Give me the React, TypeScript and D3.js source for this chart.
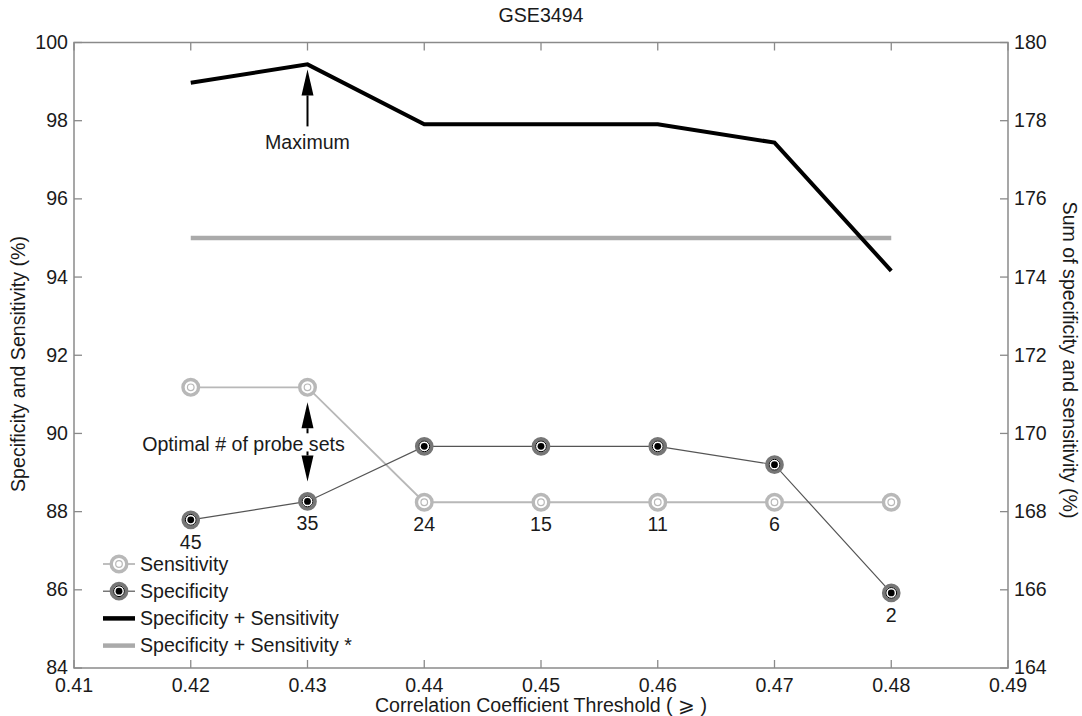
import React from "react";
import * as d3 from "d3";

// values
const thresholds = [0.42, 0.43, 0.44, 0.45, 0.46, 0.47, 0.48];
const sensitivity = [91.18, 91.18, 88.24, 88.24, 88.24, 88.24, 88.24];
const specificity = [87.79, 88.26, 89.67, 89.67, 89.67, 89.2, 85.92];
const sumSpecSens = [178.97, 179.44, 177.91, 177.91, 177.91, 177.44, 174.16];
const sumSpecSensStar = [175, 175, 175, 175, 175, 175, 175];
const probeSets = [45, 35, 24, 15, 11, 6, 2];

const xTicks = [0.41, 0.42, 0.43, 0.44, 0.45, 0.46, 0.47, 0.48, 0.49];
const yLeftTicks = [84, 86, 88, 90, 92, 94, 96, 98, 100];
const yRightTicks = [164, 166, 168, 170, 172, 174, 176, 178, 180];

const legendItems = [
  "Sensitivity",
  "Specificity",
  "Specificity + Sensitivity",
  "Specificity + Sensitivity *",
];

const W = 1082;
const H = 716;
const margin = { top: 42.5, right: 74, bottom: 48, left: 74 };
const font = "'Liberation Sans', Arial, Helvetica, sans-serif";
const fs = 19.6;
const txt = "#1a1a1a";
const axisColor = "#8a8a8a";
const sensColor = "#b8b8b8";
const specColor = "#767676";

const SensMarker = ({ cx, cy }: { cx: number; cy: number }) => (
  <g>
    <circle cx={cx} cy={cy} r={7.8} fill="#fff" stroke={sensColor} strokeWidth={3.4} />
    <circle cx={cx} cy={cy} r={3.3} fill="#fff" stroke={sensColor} strokeWidth={1.2} />
  </g>
);

const SpecMarker = ({ cx, cy }: { cx: number; cy: number }) => (
  <g>
    <circle cx={cx} cy={cy} r={7.6} fill="#fff" stroke={specColor} strokeWidth={3.5} />
    <circle cx={cx} cy={cy} r={5.4} fill="#fff" stroke="#000" strokeWidth={1} />
    <circle cx={cx} cy={cy} r={3.4} fill="#000" />
  </g>
);

const Arrow = ({ x, y1, y2 }: { x: number; y1: number; y2: number }) => {
  // y1 = tail, y2 = tip
  const dir = y2 < y1 ? -1 : 1;
  const headLen = 26;
  const headW = 6;
  const base = y2 - dir * headLen;
  return (
    <g>
      <line x1={x} x2={x} y1={y1} y2={base} stroke="#000" strokeWidth={2} />
      <path d={`M${x},${y2} L${x - headW},${base} L${x + headW},${base} Z`} fill="#000" />
    </g>
  );
};

export default function App() {
  const x = d3.scaleLinear().domain([0.41, 0.49]).range([margin.left, W - margin.right]);
  const yL = d3.scaleLinear().domain([84, 100]).range([H - margin.bottom, margin.top]);
  const yR = d3.scaleLinear().domain([164, 180]).range([H - margin.bottom, margin.top]);

  const x0 = x(0.41);
  const x1 = x(0.49);
  const yTop = yL(100);
  const yBot = yL(84);

  const lineL = d3
    .line<number>()
    .x((_, i) => x(thresholds[i]))
    .y((d) => yL(d));
  const lineR = d3
    .line<number>()
    .x((_, i) => x(thresholds[i]))
    .y((d) => yR(d));

  const tickLen = 8;
  const maxIdx = d3.maxIndex(sumSpecSens);
  const mx = x(thresholds[maxIdx]);
  const my = yR(sumSpecSens[maxIdx]);
  const ox = x(thresholds[1]);
  const oy = yL(sensitivity[1]);
  const oyLow = yL(specificity[1]);

  const legX = 103;
  const legY = 564;
  const legStep = 27.2;

  return (
    <svg
      width={W}
      height={H}
      style={{ position: "absolute", left: 0, top: 0, background: "#fff" }}
      fontFamily={font}
    >
      <rect width={W} height={H} fill="#fff" />

      {/* axes box */}
      <rect
        x={x0}
        y={yTop}
        width={x1 - x0}
        height={yBot - yTop}
        fill="none"
        stroke={axisColor}
        strokeWidth={1.5}
      />

      {/* x ticks */}
      {xTicks.map((t) => (
        <g key={`x-${t}`}>
          <line x1={x(t)} x2={x(t)} y1={yBot} y2={yBot - tickLen} stroke={axisColor} strokeWidth={1.3} />
          <line x1={x(t)} x2={x(t)} y1={yTop} y2={yTop + tickLen} stroke={axisColor} strokeWidth={1.3} />
          <text x={x(t)} y={yBot + 24} textAnchor="middle" fontSize={fs} fill={txt}>
            {t.toFixed(2)}
          </text>
        </g>
      ))}

      {/* left y ticks */}
      {yLeftTicks.map((t) => (
        <g key={`yl-${t}`}>
          <line x1={x0} x2={x0 + tickLen} y1={yL(t)} y2={yL(t)} stroke={axisColor} strokeWidth={1.3} />
          <text x={x0 - 6} y={yL(t)} dy="0.33em" textAnchor="end" fontSize={fs} fill={txt}>
            {t}
          </text>
        </g>
      ))}

      {/* right y ticks */}
      {yRightTicks.map((t) => (
        <g key={`yr-${t}`}>
          <line x1={x1} x2={x1 - tickLen} y1={yR(t)} y2={yR(t)} stroke={axisColor} strokeWidth={1.3} />
          <text x={x1 + 6} y={yR(t)} dy="0.33em" textAnchor="start" fontSize={fs} fill={txt}>
            {t}
          </text>
        </g>
      ))}

      {/* title and axis labels */}
      <text x={(x0 + x1) / 2} y={22} textAnchor="middle" fontSize={fs} fill={txt}>
        GSE3494
      </text>
      <text x={(x0 + x1) / 2} y={712} textAnchor="middle" fontSize={fs} fill={txt}>
        Correlation Coefficient Threshold ( ⩾ )
      </text>
      <text
        transform={`translate(25, 364) rotate(-90)`}
        textAnchor="middle"
        fontSize={fs}
        fill={txt}
      >
        Specificity and Sensitivity (%)
      </text>
      <text
        transform={`translate(1063, 360) rotate(90)`}
        textAnchor="middle"
        fontSize={fs}
        fill={txt}
      >
        Sum of specificity and sensitivity (%)
      </text>

      {/* sums (right axis) */}
      <path d={lineR(sumSpecSensStar) || ""} fill="none" stroke="#aaaaaa" strokeWidth={4.5} />
      <path d={lineR(sumSpecSens) || ""} fill="none" stroke="#000" strokeWidth={4} strokeLinejoin="miter" />

      {/* sensitivity / specificity (left axis) */}
      <path d={lineL(sensitivity) || ""} fill="none" stroke={sensColor} strokeWidth={1.8} />
      <path d={lineL(specificity) || ""} fill="none" stroke="#555" strokeWidth={1.2} />
      {sensitivity.map((v, i) => (
        <SensMarker key={`s-${i}`} cx={x(thresholds[i])} cy={yL(v)} />
      ))}
      {specificity.map((v, i) => (
        <SpecMarker key={`p-${i}`} cx={x(thresholds[i])} cy={yL(v)} />
      ))}

      {/* probe set counts */}
      {probeSets.map((n, i) => (
        <text
          key={`n-${i}`}
          x={x(thresholds[i])}
          y={yL(Math.min(sensitivity[i], specificity[i])) + 29}
          textAnchor="middle"
          fontSize={fs}
          fill={txt}
        >
          {n}
        </text>
      ))}

      {/* annotations */}
      <Arrow x={mx} y1={my + 62} y2={my + 5} />
      <text x={mx} y={my + 85} textAnchor="middle" fontSize={fs} fill={txt}>
        Maximum
      </text>

      <Arrow x={ox} y1={oy + 46} y2={oy + 15} />
      <Arrow x={ox} y1={oyLow - 50} y2={oyLow - 20} />
      <text x={ox - 64} y={(oy + oyLow) / 2 + 7} textAnchor="middle" fontSize={fs} fill={txt}>
        Optimal # of probe sets
      </text>

      {/* legend */}
      {legendItems.map((label, i) => {
        const ly = legY + i * legStep;
        return (
          <g key={label}>
            {i === 0 && (
              <>
                <line x1={legX} x2={legX + 32} y1={ly} y2={ly} stroke={sensColor} strokeWidth={1.8} />
                <SensMarker cx={legX + 16} cy={ly} />
              </>
            )}
            {i === 1 && (
              <>
                <line x1={legX} x2={legX + 32} y1={ly} y2={ly} stroke="#555" strokeWidth={1.2} />
                <SpecMarker cx={legX + 16} cy={ly} />
              </>
            )}
            {i === 2 && (
              <line x1={legX} x2={legX + 32} y1={ly} y2={ly} stroke="#000" strokeWidth={4.5} />
            )}
            {i === 3 && (
              <line x1={legX} x2={legX + 32} y1={ly} y2={ly} stroke="#aaaaaa" strokeWidth={4.5} />
            )}
            <text x={legX + 37} y={ly} dy="0.35em" fontSize={fs} fill={txt}>
              {label}
            </text>
          </g>
        );
      })}
    </svg>
  );
}
